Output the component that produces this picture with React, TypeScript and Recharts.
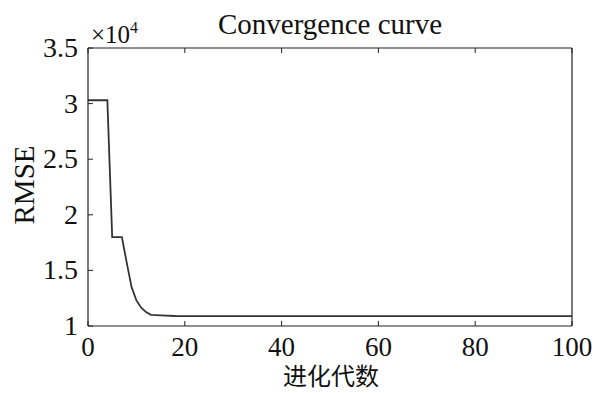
import React from 'react';
import { LineChart, Line, XAxis, YAxis } from 'recharts';

const generations = [0, 4, 5, 7, 8, 9, 10, 11, 12, 13, 15, 18, 100];
const rmseValues = [30300, 30300, 18000, 18000, 15700, 13500, 12300, 11650, 11250, 11000, 10950, 10900, 10880];
const xTicks = [0, 20, 40, 60, 80, 100];
const yTicks = [10000, 15000, 20000, 25000, 30000, 35000];
const yTickLabels = ['1', '1.5', '2', '2.5', '3', '3.5'];

const data = generations.map((g, i) => ({ gen: g, rmse: rmseValues[i] }));

const FONT = '"Liberation Serif", "Times New Roman", serif';
const AXIS = '#222';

const BottomTick = (props: any) => {
  const { x, y, payload } = props;
  return (
    <g>
      <line x1={x} y1={y} x2={x} y2={y - 5} stroke={AXIS} strokeWidth={1} />
      <text x={x} y={y + 30} textAnchor="middle" fontFamily={FONT} fontSize={27} fill="#111">
        {payload.value}
      </text>
    </g>
  );
};

const TopTick = (props: any) => {
  const { x, y } = props;
  return <line x1={x} y1={y} x2={x} y2={y + 5} stroke={AXIS} strokeWidth={1} />;
};

const LeftTick = (props: any) => {
  const { x, y, payload } = props;
  const idx = yTicks.indexOf(payload.value);
  return (
    <g>
      <line x1={x} y1={y} x2={x + 5} y2={y} stroke={AXIS} strokeWidth={1} />
      <text x={x - 10} y={y + 9} textAnchor="end" fontFamily={FONT} fontSize={28} fill="#111">
        {idx >= 0 ? yTickLabels[idx] : ''}
      </text>
    </g>
  );
};

const RightTick = (props: any) => {
  const { x, y } = props;
  return <line x1={x} y1={y} x2={x - 5} y2={y} stroke={AXIS} strokeWidth={1} />;
};

export default function App() {
  return (
    <div style={{ position: 'absolute', left: 0, top: 0, width: 595, height: 393, background: '#fff' }}>
      <LineChart width={595} height={393} data={data} margin={{ top: 47, right: 22, bottom: 66, left: 87 }}>
        <XAxis
          xAxisId="b"
          dataKey="gen"
          type="number"
          domain={[0, 100]}
          ticks={xTicks}
          height={1}
          tickSize={0}
          tickMargin={0}
          tickLine={false}
          axisLine={{ stroke: AXIS, strokeWidth: 1.2 }}
          tick={<BottomTick />}
          interval={0}
        />
        <XAxis
          xAxisId="t"
          orientation="top"
          dataKey="gen"
          type="number"
          domain={[0, 100]}
          ticks={xTicks}
          height={1}
          tickSize={0}
          tickMargin={0}
          tickLine={false}
          axisLine={{ stroke: AXIS, strokeWidth: 1.2 }}
          tick={<TopTick />}
          interval={0}
        />
        <YAxis
          yAxisId="l"
          type="number"
          domain={[10000, 35000]}
          ticks={yTicks}
          width={1}
          tickSize={0}
          tickMargin={0}
          tickLine={false}
          axisLine={{ stroke: AXIS, strokeWidth: 1.2 }}
          tick={<LeftTick />}
          interval={0}
        />
        <YAxis
          yAxisId="r"
          orientation="right"
          type="number"
          domain={[10000, 35000]}
          ticks={yTicks}
          width={1}
          tickSize={0}
          tickMargin={0}
          tickLine={false}
          axisLine={{ stroke: AXIS, strokeWidth: 1.2 }}
          tick={<RightTick />}
          interval={0}
        />
        <Line
          xAxisId="b"
          yAxisId="l"
          type="linear"
          dataKey="rmse"
          stroke="#333"
          strokeWidth={1.8}
          dot={false}
          isAnimationActive={false}
        />
        <text x={330} y={34} textAnchor="middle" fontFamily={FONT} fontSize={29} fill="#111">
          Convergence curve
        </text>
        <text x={91} y={43} fontFamily={FONT} fontSize={25} fill="#111">
          ×10
          <tspan dy={-10} fontSize={16}>4</tspan>
        </text>
        <text
          x={34}
          y={185}
          textAnchor="middle"
          fontFamily={FONT}
          fontSize={29}
          fill="#111"
          transform="rotate(-90 34 185)"
        >
          RMSE
        </text>
        <text x={331} y={385} textAnchor="middle" fontFamily={'"Noto Sans CJK SC", sans-serif'} fontSize={24} fill="#111">
          进化代数
        </text>
      </LineChart>
    </div>
  );
}
